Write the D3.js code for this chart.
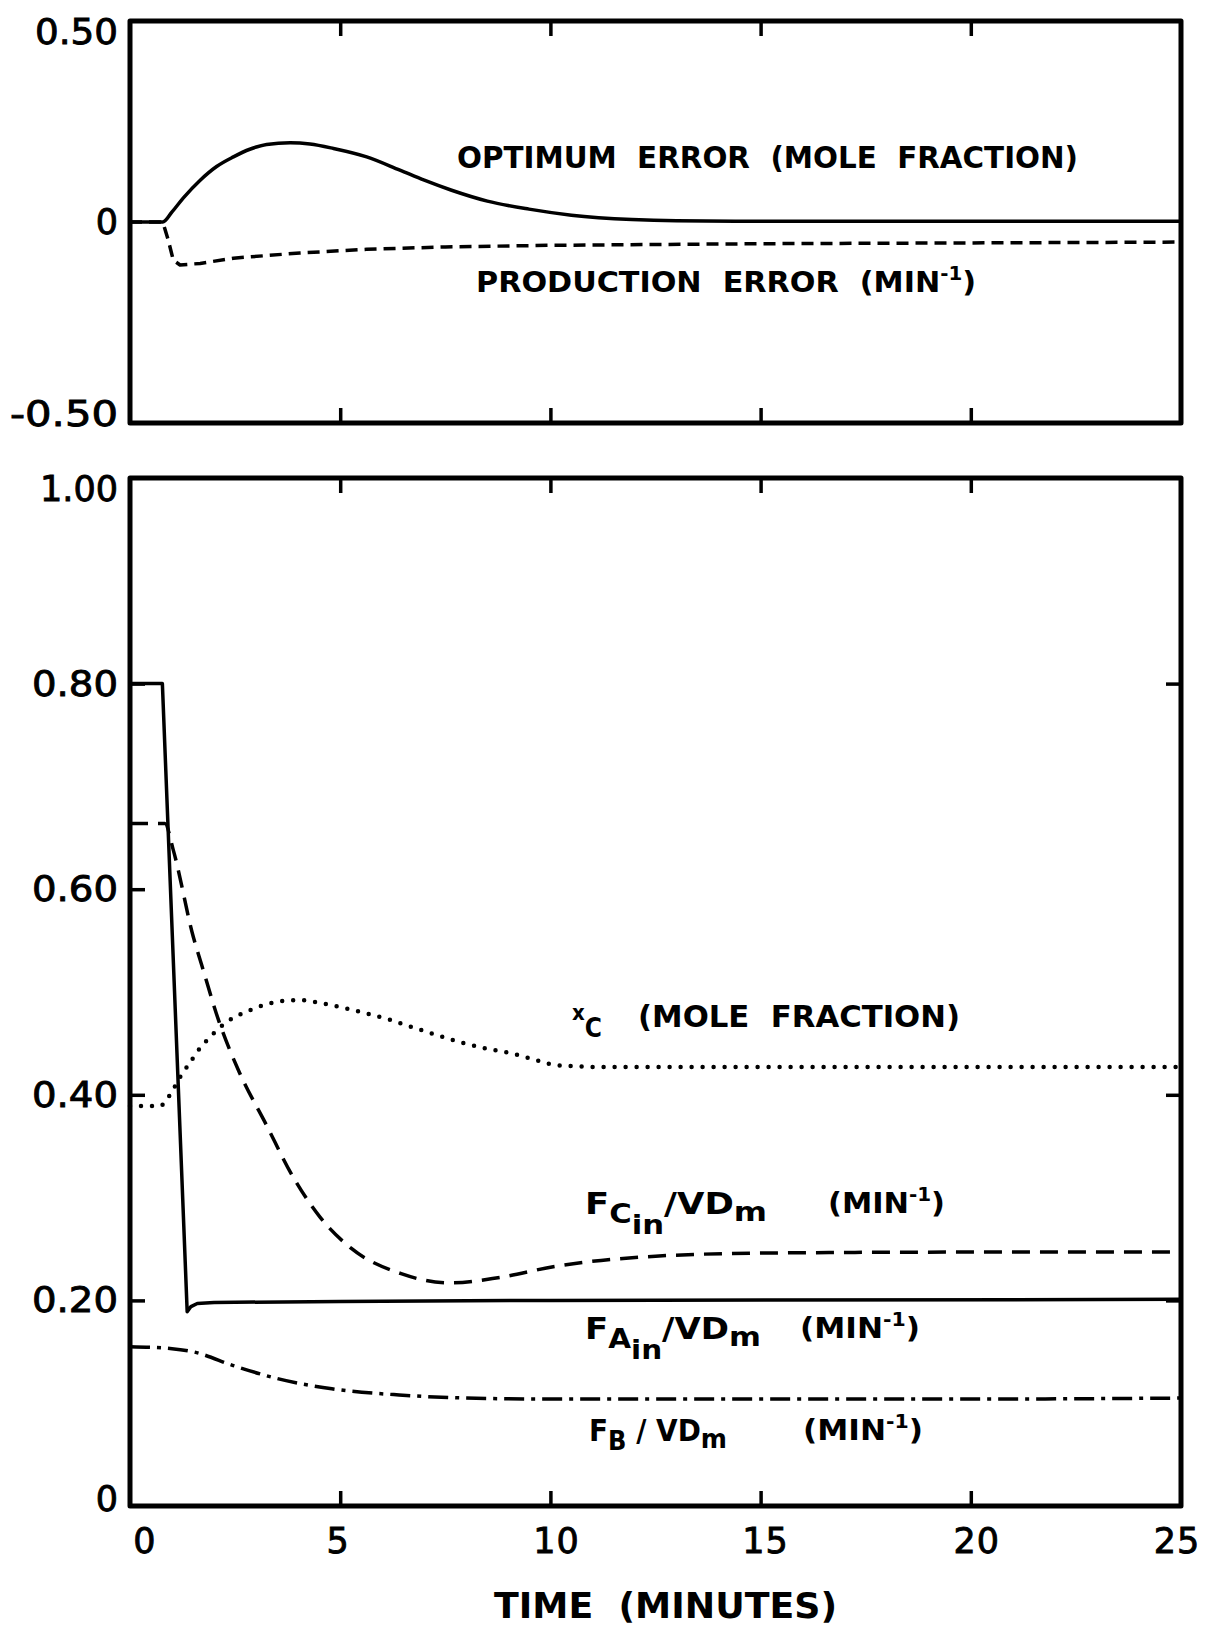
<!DOCTYPE html>
<html>
<head>
<meta charset="utf-8">
<script src="https://cdn.jsdelivr.net/npm/d3@7"></script>
<style>
  html, body { margin: 0; padding: 0; background: #fff; }
  svg { display: block; }
  .tick-label { font-family: "DejaVu Sans", sans-serif; font-size: 35px; fill: #000; stroke: #000; stroke-width: 0.9px; }
  .curve-label { font-family: "DejaVu Sans Condensed", "DejaVu Sans", sans-serif; font-weight: bold; fill: #000; white-space: pre; }
</style>
</head>
<body>
<script>
// Time axis (minutes)
const timeTicks = [0, 5, 10, 15, 20, 25];
const timeTickLabels = ["0", "5", "10", "15", "20", "25"];

// Upper panel: error signals
const errorTicks = [-0.5, 0, 0.5];
const errorTickLabels = ["-0.50", "0", "0.50"];

// Lower panel: state and manipulated variables
const stateTicks = [0, 0.2, 0.4, 0.6, 0.8, 1.0];
const stateTickLabels = ["0", "0.20", "0.40", "0.60", "0.80", "1.00"];

// [time, value] pairs
const optimumError = [
  [0, 0], [0.78, 0], [1.0, 0.025], [1.27, 0.06], [1.67, 0.104], [2.06, 0.138],
  [2.46, 0.162], [2.85, 0.181], [3.25, 0.193], [3.81, 0.197], [4.28, 0.194],
  [4.84, 0.183], [5.63, 0.162], [6.42, 0.129], [7.0, 0.104], [7.65, 0.079],
  [8.5, 0.052], [9.49, 0.032], [10.5, 0.017], [11.94, 0.006], [13, 0.003],
  [15, 0.002], [20, 0.002], [25, 0.002]
];
const productionError = [
  [0, 0], [0.78, 0], [0.91, -0.045], [1.03, -0.095], [1.19, -0.107], [1.67, -0.103],
  [2.46, -0.09], [4.04, -0.077], [5.63, -0.068], [7.5, -0.062], [10, -0.058],
  [15, -0.054], [20, -0.052], [25, -0.05]
];
const moleFractionC = [
  [0, 0.389], [0.24, 0.389], [0.71, 0.389], [0.9, 0.397], [1.19, 0.417],
  [1.47, 0.434], [1.64, 0.444], [1.9, 0.456], [2.31, 0.471], [2.78, 0.481],
  [3.33, 0.489], [3.85, 0.492], [4.09, 0.492], [4.57, 0.489], [5.04, 0.485],
  [5.64, 0.479], [6.18, 0.473], [6.7, 0.466], [7.3, 0.458], [7.87, 0.451],
  [8.48, 0.445], [9.1, 0.44], [9.73, 0.433], [10.1, 0.429], [11.3, 0.427],
  [15, 0.427], [20, 0.427], [25, 0.427]
];
const feedC = [
  [0, 0.664], [0.83, 0.664], [1.03, 0.638], [1.51, 0.553], [1.7, 0.527],
  [2.12, 0.471], [2.6, 0.422], [3.24, 0.371], [3.88, 0.32], [4.52, 0.281],
  [5.25, 0.251], [6.45, 0.226], [7.6, 0.217], [8.75, 0.222], [10.1, 0.233],
  [12.5, 0.243], [15, 0.246], [20, 0.247], [25, 0.247]
];
const feedA = [
  [0, 0.8], [0.77, 0.8], [1.36, 0.189], [1.45, 0.194], [1.6, 0.197],
  [2, 0.198], [5, 0.199], [10, 0.2], [25, 0.201]
];
const feedB = [
  [0, 0.155], [1, 0.153], [1.5, 0.15], [2.5, 0.136], [3.5, 0.124],
  [4.8, 0.114], [6.4, 0.108], [8, 0.105], [10, 0.104], [15, 0.104],
  [20, 0.104], [25, 0.105]
];

const W = 1205, H = 1629;
const svg = d3.select("body").append("svg").attr("width", W).attr("height", H);
svg.append("rect").attr("width", W).attr("height", H).attr("fill", "#fff");

const x = d3.scaleLinear().domain([0, 25]).range([130, 1181]);
const yTop = d3.scaleLinear().domain([-0.5, 0.5]).range([423, 21]);
const yBot = d3.scaleLinear().domain([0, 1]).range([1506, 478]);

// ---- frames ----
function frame(y) {
  svg.append("rect")
    .attr("x", x(0)).attr("y", y.range()[1])
    .attr("width", x(25) - x(0)).attr("height", y.range()[0] - y.range()[1])
    .attr("fill", "none").attr("stroke", "#000").attr("stroke-width", 5)
    .attr("stroke-linejoin", "round");
}

// ---- inward ticks drawn with d3 axes ----
function ticksX(y, values) {
  svg.append("g").attr("transform", `translate(0,${y.range()[0]})`)
    .call(d3.axisBottom(x).tickValues(values).tickSize(-15).tickFormat(""))
    .call(g => g.select(".domain").remove())
    .call(g => g.selectAll("line").attr("stroke-width", 3.5));
  svg.append("g").attr("transform", `translate(0,${y.range()[1]})`)
    .call(d3.axisTop(x).tickValues(values).tickSize(-15).tickFormat(""))
    .call(g => g.select(".domain").remove())
    .call(g => g.selectAll("line").attr("stroke-width", 3.5));
}
function ticksY(y, leftValues, rightValues) {
  svg.append("g").attr("transform", `translate(${x(0)},0)`)
    .call(d3.axisLeft(y).tickValues(leftValues).tickSize(-15).tickFormat(""))
    .call(g => g.select(".domain").remove())
    .call(g => g.selectAll("line").attr("stroke-width", 3.5));
  svg.append("g").attr("transform", `translate(${x(25)},0)`)
    .call(d3.axisRight(y).tickValues(rightValues).tickSize(-15).tickFormat(""))
    .call(g => g.select(".domain").remove())
    .call(g => g.selectAll("line").attr("stroke-width", 3.5));
}

frame(yTop);
frame(yBot);
ticksX(yTop, [5, 10, 15, 20]);
ticksX(yBot, [5, 10, 15, 20]);
ticksY(yBot, [0.2, 0.4, 0.6, 0.8], [0.2, 0.4, 0.8]);

// ---- tick labels ----
const yLabelWidths = { "-0.50": 108, "0.50": 83, "0": 23, "1.00": 78, "0.80": 86, "0.60": 86, "0.40": 86, "0.20": 86 };
function yLabels(y, values, labels) {
  const n = values.length;
  values.forEach((v, i) => {
    let dy = 0;
    if (i === 0 && labels[i] !== "0") dy = -9;
    if (i === 0 && labels[i] === "0") dy = -7;
    if (i === n - 1) dy = 11;
    const t = svg.append("text").attr("class", "tick-label")
      .attr("x", 118).attr("y", y(v) + dy)
      .attr("text-anchor", "end").attr("dominant-baseline", "central")
      .text(labels[i]);
    if (labels[i].length > 1) {
      t.attr("textLength", yLabelWidths[labels[i]]).attr("lengthAdjust", "spacingAndGlyphs");
    }
  });
}
yLabels(yTop, errorTicks, errorTickLabels);
yLabels(yBot, stateTicks, stateTickLabels);

const timeLabelShift = [15, -2, 6, 5, 6, -4];
timeTicks.forEach((t, i) => {
  svg.append("text").attr("class", "tick-label")
    .attr("x", x(t) + timeLabelShift[i]).attr("y", 1541)
    .attr("text-anchor", "middle").attr("dominant-baseline", "central")
    .attr("letter-spacing", 1)
    .text(timeTickLabels[i]);
});

// x axis title
svg.append("text").attr("class", "curve-label")
  .attr("x", 494).attr("y", 1618).attr("font-size", 35)
  .attr("textLength", 343).attr("lengthAdjust", "spacingAndGlyphs")
  .text("TIME  (MINUTES)");

// ---- curves ----
const lineTop = d3.line().x(d => x(d[0])).y(d => yTop(d[1]));
const lineBot = d3.line().x(d => x(d[0])).y(d => yBot(d[1]));

function draw(gen, data, curve, opts) {
  svg.append("path").datum(data)
    .attr("d", gen.curve(curve)(data))
    .attr("fill", "none").attr("stroke", "#000")
    .attr("stroke-width", opts.w || 3.5)
    .attr("stroke-dasharray", opts.dash || null)
    .attr("stroke-linecap", opts.cap || "butt")
    .attr("stroke-linejoin", "round");
}

draw(lineTop, optimumError, d3.curveMonotoneX, { w: 3.5 });
draw(lineTop, productionError, d3.curveLinear, { w: 3.5, dash: "12 7" });
draw(lineBot, moleFractionC, d3.curveMonotoneX, { w: 4.5, dash: "0 11", cap: "round" });
draw(lineBot, feedC, d3.curveMonotoneX, { w: 3.5, dash: "18 10" });
draw(lineBot, feedA, d3.curveLinear, { w: 3.5 });
draw(lineBot, feedB, d3.curveMonotoneX, { w: 3.5, dash: "20 7 4 7" });

// ---- curve labels ----
function plain(xp, yp, size, width, str) {
  svg.append("text").attr("class", "curve-label")
    .attr("x", xp).attr("y", yp).attr("font-size", size)
    .attr("textLength", width).attr("lengthAdjust", "spacingAndGlyphs")
    .text(str);
}
function perMin(xp, yp, width, lead) {
  const t = svg.append("text").attr("class", "curve-label")
    .attr("x", xp).attr("y", yp).attr("font-size", 29)
    .attr("textLength", width).attr("lengthAdjust", "spacingAndGlyphs");
  t.append("tspan").text((lead || "") + "(MIN");
  t.append("tspan").attr("dy", -12).attr("font-size", 19).text("-1");
  t.append("tspan").attr("dy", 12).text(")");
  return t;
}

plain(457, 168, 30, 621, "OPTIMUM  ERROR  (MOLE  FRACTION)");
perMin(476, 292, 500, "PRODUCTION  ERROR  ");

// x_C (MOLE FRACTION)
{
  const t = svg.append("text").attr("class", "curve-label")
    .attr("x", 572).attr("y", 1020).attr("font-size", 22);
  t.append("tspan").text("x");
  t.append("tspan").attr("dy", 17).attr("font-size", 26).text("C");
  plain(638, 1027, 30, 322, "(MOLE  FRACTION)");
}

// flow-rate labels
function flowLabel(xp, yp, width, sub1, sub2) {
  const t = svg.append("text").attr("class", "curve-label")
    .attr("x", xp).attr("y", yp).attr("font-size", 30)
    .attr("textLength", width).attr("lengthAdjust", "spacingAndGlyphs");
  t.append("tspan").text("F");
  t.append("tspan").attr("dy", 9).attr("font-size", 26).text(sub1);
  let back = -9;
  if (sub2) {
    t.append("tspan").attr("dy", 11).attr("font-size", 26).text(sub2);
    back = -20;
  }
  t.append("tspan").attr("dy", back).text(sub2 ? "/VD" : " / VD");
  t.append("tspan").attr("dy", 7).attr("font-size", 27).text("m");
}
flowLabel(585, 1214, 182, "C", "in");
perMin(828, 1213, 117);
flowLabel(585, 1339, 176, "A", "in");
perMin(800, 1338, 120);
flowLabel(589, 1441, 138, "B", null);
perMin(803, 1440, 120);
</script>
</body>
</html>
